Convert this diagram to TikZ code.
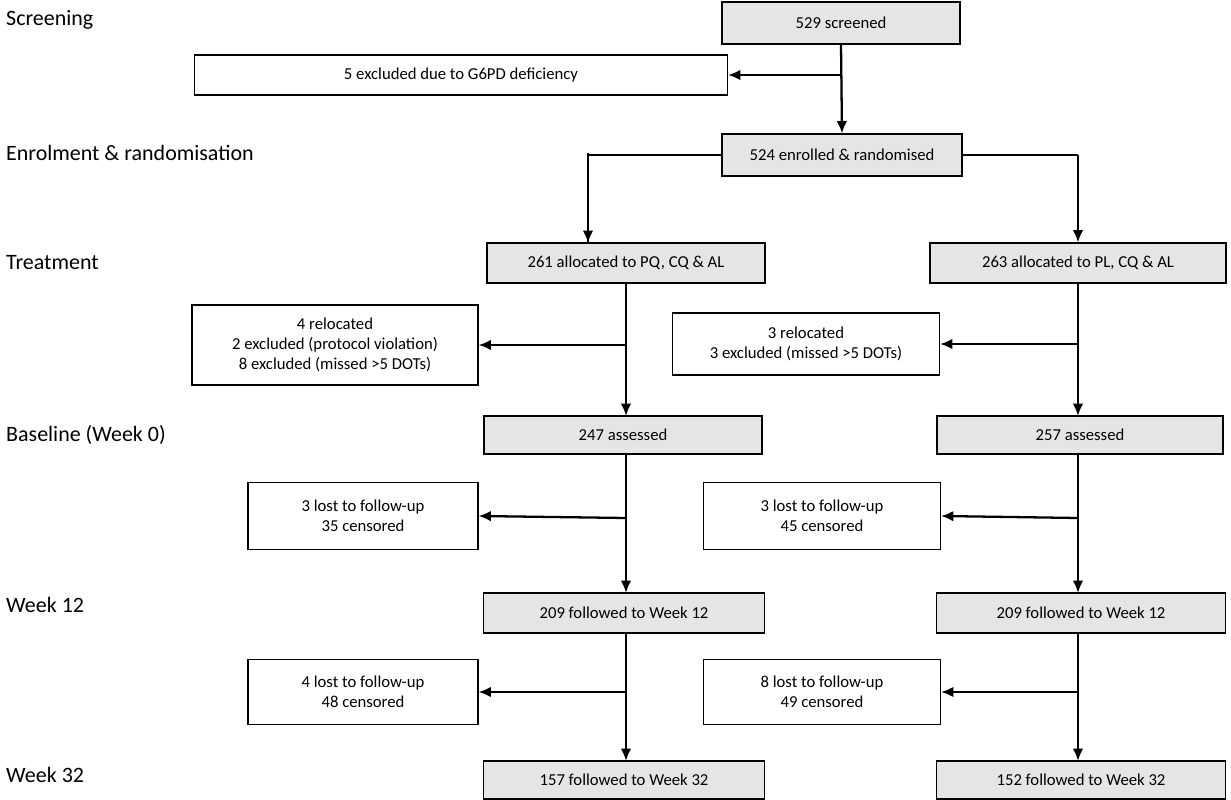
\documentclass[tikz,border=0pt]{standalone}
\usepackage{fontspec}
\setmainfont{Carlito}
\usetikzlibrary{arrows.meta}
\begin{document}
\begin{tikzpicture}[x=0.02cm,y=-0.02cm,
  gbox/.style={draw,fill=gray!20,line width=0.6pt,inner sep=0pt,font=\fontsize{9.5}{11}\selectfont,align=center},
  wbox/.style={draw,fill=white,line width=0.6pt,inner sep=0pt,font=\fontsize{9.5}{11.5}\selectfont,align=center},
  stage/.style={anchor=west,font=\fontsize{12.5}{14}\selectfont},
  arr/.style={line width=1.3pt,-{Latex[length=7pt,width=6pt]}},
  ln/.style={line width=1.3pt}]
\useasboundingbox (0,0) rectangle (1231,800);
\node[stage] (s1) at (0,20) {Screening};
\node[stage] (s2) at (0,153) {Enrolment \& randomisation};
\node[stage] (s3) at (0,263) {Treatment};
\node[stage] (s4) at (0,435) {Baseline (Week 0)};
\node[stage] (s5) at (0,605) {Week 12};
\node[stage] (s6) at (0,775) {Week 32};

\node[gbox,minimum width=238*0.02cm,minimum height=42*0.02cm] (scr) at (841,23) {529 screened};
\node[wbox,minimum width=533*0.02cm,minimum height=40*0.02cm] (exc) at (461,75) {5 excluded due to G6PD deficiency};
\node[gbox,minimum width=240*0.02cm,minimum height=42*0.02cm] (enr) at (842,155) {524 enrolled \& randomised};
\node[gbox,minimum width=278*0.02cm,minimum height=40*0.02cm] (al) at (626,263) {261 allocated to PQ, CQ \& AL};
\node[gbox,minimum width=296*0.02cm,minimum height=40*0.02cm] (ar) at (1078,263) {263 allocated to PL, CQ \& AL};
\node[wbox,minimum width=286*0.02cm,minimum height=80*0.02cm] (rl) at (335,345) {4 relocated\\2 excluded (protocol violation)\\8 excluded (missed >5 DOTs)};
\node[wbox,minimum width=267*0.02cm,minimum height=62*0.02cm] (rr) at (806,344) {3 relocated\\3 excluded (missed >5 DOTs)};
\node[gbox,minimum width=278*0.02cm,minimum height=38*0.02cm] (bl) at (623,435) {247 assessed};
\node[gbox,minimum width=286*0.02cm,minimum height=38*0.02cm] (br) at (1080,435) {257 assessed};
\node[wbox,minimum width=230*0.02cm,minimum height=67*0.02cm] (l1l) at (363,516) {3 lost to follow-up\\35 censored};
\node[wbox,minimum width=237*0.02cm,minimum height=67*0.02cm] (l1r) at (822,516) {3 lost to follow-up\\45 censored};
\node[gbox,minimum width=281*0.02cm,minimum height=40*0.02cm] (wl) at (624,613) {209 followed to Week 12};
\node[gbox,minimum width=289*0.02cm,minimum height=40*0.02cm] (wr) at (1081,613) {209 followed to Week 12};
\node[wbox,minimum width=230*0.02cm,minimum height=65*0.02cm] (l2l) at (363,692) {4 lost to follow-up\\48 censored};
\node[wbox,minimum width=237*0.02cm,minimum height=65*0.02cm] (l2r) at (822,692) {8 lost to follow-up\\49 censored};
\node[gbox,minimum width=281*0.02cm,minimum height=38*0.02cm] (fl) at (624,780) {157 followed to Week 32};
\node[gbox,minimum width=289*0.02cm,minimum height=38*0.02cm] (fr) at (1081,780) {152 followed to Week 32};

\coordinate (j0) at (841,75);
\draw[arr] (scr.south) -- (enr.north);
\draw[arr] (j0) -- (exc.east);
\draw[ln] (enr.west) -| (588,243) coordinate (t1);
\draw[arr] (588,153) -- (t1);
\draw[ln] (enr.east) -- (1078,155);
\draw[arr] (1078,155) -- (ar.north);
\draw[arr] (626,283) -- (626,416);
\coordinate (j1) at (626,345);
\draw[arr] (j1) -- (rl.east);
\draw[arr] (ar.south) -- (1078,416);
\coordinate (j2) at (1078,344);
\draw[arr] (j2) -- (rr.east);
\draw[arr] (626,454) -- (626,593);
\draw[arr] (626,518) -- (l1l.east);
\draw[arr] (1078,454) -- (1078,593);
\draw[arr] (1078,518) -- (l1r.east);
\draw[arr] (626,633) -- (626,761);
\draw[arr] (626,692) -- (l2l.east);
\draw[arr] (1078,633) -- (1078,761);
\draw[arr] (1078,692) -- (l2r.east);
\end{tikzpicture}
\end{document}
